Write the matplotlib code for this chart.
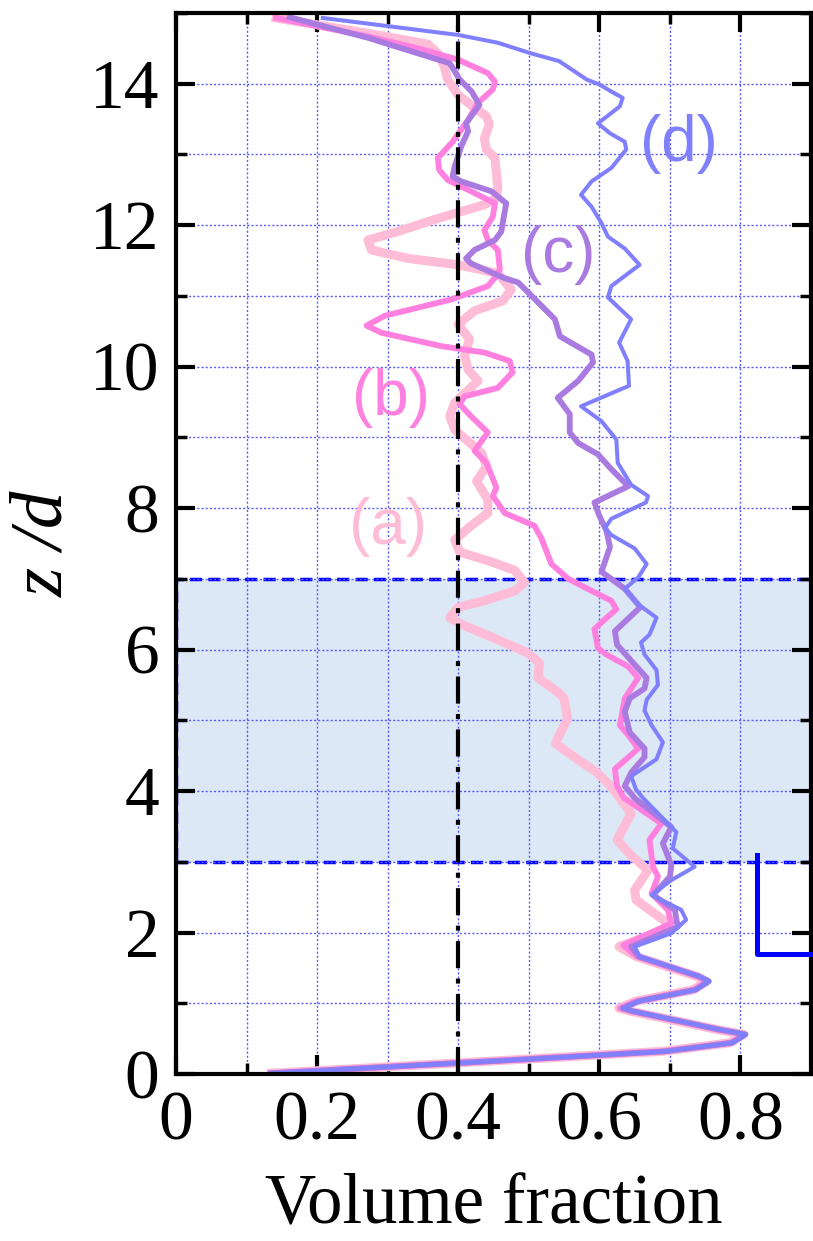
import matplotlib
matplotlib.use("Agg")
import matplotlib.pyplot as plt
from matplotlib.ticker import MultipleLocator

# volume fraction profiles, read top (z/d = 15) to bottom
a_z = [14.93, 14.70, 14.56, 14.43, 14.25, 14.06, 13.84, 13.66, 13.54, 13.42,
       13.23, 13.07, 12.95, 12.74, 12.55, 12.38, 12.29, 12.08, 11.91, 11.79,
       11.65, 11.53, 11.44, 11.32, 11.09, 10.93, 10.79, 10.60, 10.39, 10.15,
       9.96, 9.80, 9.49, 9.30, 9.11, 8.97, 8.78, 8.59, 8.38, 8.12,
       7.93, 7.75, 7.55, 7.38, 7.24, 7.12, 6.95, 6.83, 6.69, 6.60,
       6.45, 6.36, 6.14, 5.95, 5.81, 5.60, 5.40, 5.31, 5.02, 4.79,
       4.67, 4.45, 4.26, 4.07, 3.90, 3.68, 3.31, 3.09, 2.88, 2.60,
       2.46, 2.13, 2.04, 1.80, 1.66, 1.38, 1.31, 1.19, 1.03, 0.93,
       0.89, 0.63, 0.56, 0.44, 0.32, 0.21, 0.01]
a_x = [0.142, 0.280, 0.357, 0.371, 0.380, 0.385, 0.400, 0.423, 0.440, 0.444,
       0.437, 0.440, 0.452, 0.454, 0.456, 0.454, 0.437, 0.366, 0.314, 0.272,
       0.277, 0.329, 0.400, 0.456, 0.475, 0.463, 0.423, 0.400, 0.416, 0.409,
       0.414, 0.428, 0.395, 0.388, 0.395, 0.411, 0.433, 0.440, 0.426, 0.442,
       0.442, 0.418, 0.395, 0.402, 0.447, 0.480, 0.494, 0.480, 0.437, 0.400,
       0.388, 0.404, 0.456, 0.499, 0.515, 0.513, 0.541, 0.550, 0.555, 0.543,
       0.538, 0.569, 0.597, 0.616, 0.629, 0.645, 0.625, 0.645, 0.669, 0.650,
       0.652, 0.697, 0.692, 0.628, 0.652, 0.738, 0.752, 0.733, 0.652, 0.628,
       0.643, 0.766, 0.804, 0.785, 0.690, 0.497, 0.135]

b_z = [14.93, 14.67, 14.50, 14.34, 14.15, 14.03, 13.92, 13.73, 13.49, 13.18,
       12.95, 12.78, 12.64, 12.48, 12.31, 12.12, 11.93, 11.79, 11.65, 11.37,
       11.26, 11.14, 10.95, 10.72, 10.58, 10.48, 10.29, 10.20, 10.08, 9.92,
       9.70, 9.58, 9.47, 9.30, 9.07, 8.81, 8.64, 8.29, 8.17, 7.93,
       7.75, 7.57, 7.21, 7.00, 6.81, 6.69, 6.57, 6.43, 6.29, 6.02,
       5.93, 5.76, 5.60, 5.31, 4.93, 4.79, 4.60, 4.31, 4.07, 3.90,
       3.54, 3.31, 2.93, 2.79, 2.55, 2.32, 2.13, 1.82, 1.66, 1.38,
       1.31, 1.19, 1.03, 0.93, 0.89, 0.63, 0.56, 0.44, 0.32, 0.21,
       0.01]
b_x = [0.142, 0.272, 0.343, 0.400, 0.442, 0.452, 0.449, 0.428, 0.414, 0.392,
       0.371, 0.373, 0.385, 0.418, 0.452, 0.449, 0.437, 0.442, 0.456, 0.459,
       0.452, 0.442, 0.390, 0.296, 0.270, 0.291, 0.376, 0.437, 0.473, 0.477,
       0.456, 0.409, 0.402, 0.418, 0.442, 0.423, 0.440, 0.454, 0.449, 0.466,
       0.508, 0.518, 0.532, 0.556, 0.593, 0.617, 0.624, 0.608, 0.593, 0.598,
       0.610, 0.641, 0.655, 0.636, 0.629, 0.641, 0.655, 0.622, 0.625, 0.635,
       0.688, 0.671, 0.676, 0.683, 0.674, 0.697, 0.702, 0.634, 0.653, 0.739,
       0.753, 0.734, 0.653, 0.629, 0.644, 0.767, 0.805, 0.786, 0.691, 0.498,
       0.135]

c_z = [14.94, 14.65, 14.46, 14.29, 14.06, 13.89, 13.70, 13.44, 13.33, 13.11,
       12.83, 12.69, 12.62, 12.48, 12.31, 12.03, 11.91, 11.79, 11.65, 11.53,
       11.46, 11.25, 11.19, 10.67, 10.43, 10.17, 10.06, 9.80, 9.56, 9.33,
       9.07, 8.92, 8.76, 8.55, 8.31, 8.08, 7.89, 7.68, 7.45, 7.10,
       6.86, 6.60, 6.26, 6.07, 5.81, 5.60, 5.45, 5.31, 5.12, 4.83,
       4.60, 4.48, 4.26, 4.07, 3.90, 3.49, 3.26, 2.95, 2.79, 2.53,
       2.32, 2.08, 1.80, 1.66, 1.38, 1.31, 1.19, 1.03, 0.93, 0.89,
       0.63, 0.56, 0.44, 0.32, 0.21, 0.01]
c_x = [0.161, 0.272, 0.333, 0.388, 0.402, 0.419, 0.430, 0.411, 0.414, 0.404,
       0.395, 0.392, 0.404, 0.447, 0.468, 0.463, 0.461, 0.452, 0.423, 0.411,
       0.418, 0.466, 0.485, 0.537, 0.544, 0.589, 0.591, 0.570, 0.541, 0.558,
       0.558, 0.570, 0.598, 0.617, 0.641, 0.593, 0.600, 0.610, 0.615, 0.603,
       0.636, 0.658, 0.622, 0.625, 0.648, 0.667, 0.664, 0.643, 0.636, 0.643,
       0.664, 0.664, 0.645, 0.636, 0.650, 0.702, 0.690, 0.702, 0.700, 0.676,
       0.707, 0.711, 0.645, 0.656, 0.741, 0.755, 0.736, 0.656, 0.633, 0.646,
       0.769, 0.807, 0.788, 0.693, 0.500, 0.135]

d_z = [14.93, 14.69, 14.58, 14.43, 14.32, 14.06, 13.99, 13.89, 13.80, 13.68,
       13.44, 13.30, 13.18, 13.07, 12.81, 12.62, 12.43, 12.26, 12.03, 11.84,
       11.67, 11.44, 11.14, 10.98, 10.67, 10.34, 10.08, 9.73, 9.44, 9.23,
       8.97, 8.64, 8.33, 8.17, 8.08, 7.85, 7.72, 7.62, 7.43, 7.21,
       7.02, 6.86, 6.64, 6.45, 6.21, 6.10, 5.93, 5.71, 5.50, 5.29,
       5.14, 4.93, 4.69, 4.45, 4.21, 4.02, 3.90, 3.42, 3.19, 2.93,
       2.74, 2.53, 2.32, 2.18, 1.99, 1.80, 1.66, 1.38, 1.31, 1.19,
       1.03, 0.93, 0.89, 0.63, 0.56, 0.44, 0.32, 0.21, 0.01]
d_x = [0.208, 0.400, 0.456, 0.503, 0.543, 0.582, 0.600, 0.617, 0.633, 0.629,
       0.598, 0.615, 0.636, 0.638, 0.617, 0.589, 0.574, 0.589, 0.603, 0.612,
       0.636, 0.657, 0.617, 0.612, 0.645, 0.628, 0.640, 0.642, 0.574, 0.603,
       0.624, 0.626, 0.645, 0.669, 0.666, 0.617, 0.608, 0.617, 0.650, 0.667,
       0.655, 0.636, 0.655, 0.681, 0.671, 0.659, 0.664, 0.681, 0.683, 0.667,
       0.664, 0.674, 0.690, 0.681, 0.645, 0.652, 0.662, 0.709, 0.704, 0.735,
       0.702, 0.674, 0.716, 0.723, 0.702, 0.650, 0.657, 0.742, 0.756, 0.737,
       0.657, 0.634, 0.647, 0.770, 0.808, 0.789, 0.694, 0.501, 0.135]

labels = ["(a)", "(b)", "(c)", "(d)"]
label_pos = [(0.300, 7.74), (0.305, 9.56), (0.542, 11.58), (0.713, 13.15)]
colors = ["#ffbcd6", "#ff80df", "#a97ae0", "#8080ff"]
widths = [6.5, 4.2, 4.2, 2.9]

band = (3.0, 7.0)         # shaded z/d range
ref_phi = 0.4             # dash-dot reference line
marker_x, marker_top, marker_bot = 0.823, 3.1, 1.7

serif = "Liberation Serif"

fig = plt.figure(figsize=(8.13, 12.41), dpi=100)
ax = fig.add_axes([0.2165, 0.1346, 0.7811, 0.8549])

ax.axhspan(band[0], band[1], facecolor="#dce8f5", edgecolor="#0000ff",
           linestyle=(0, (3.5, 1.8)), linewidth=2.5, zorder=0.2)

series = [(a_x, a_z), (b_x, b_z), (c_x, c_z), (d_x, d_z)]
for (xs, zs), c, w in zip(series, colors, widths):
    ax.plot(xs, zs, color=c, lw=w, solid_joinstyle="round", zorder=2)

for txt, (tx, tz), c in zip(labels, label_pos, colors):
    ax.text(tx, tz, txt, color=c, fontsize=46, family="Liberation Sans",
            ha="center", va="center", zorder=4)

ax.axvline(ref_phi, color="black", lw=3, linestyle=(0, (6.5, 2.5, 1.2, 2.5)), zorder=5)

ax.plot([marker_x, marker_x, 0.9], [marker_top, marker_bot, marker_bot],
        color="#0000ff", lw=3.6, clip_on=False, zorder=5)

ax.set_xlim(0, 0.9)
ax.set_ylim(0, 15)
ax.xaxis.set_major_locator(MultipleLocator(0.2))
ax.xaxis.set_minor_locator(MultipleLocator(0.1))
ax.yaxis.set_major_locator(MultipleLocator(2))
ax.yaxis.set_minor_locator(MultipleLocator(1))
ax.set_xticks([0, 0.2, 0.4, 0.6, 0.8])
ax.set_xticklabels(["0", "0.2", "0.4", "0.6", "0.8"])

ax.grid(which="both", color="#5a5aff", linestyle=(0, (1.5, 1.5)), linewidth=1.0, zorder=0.5)
ax.set_axisbelow(True)

ax.tick_params(which="both", direction="in", top=True, right=True)
ax.tick_params(which="major", length=14, width=3, labelsize=50, pad=12)
ax.tick_params(which="minor", length=8, width=2.5)
for lab in ax.get_xticklabels() + ax.get_yticklabels():
    lab.set_family(serif)
for s in ax.spines.values():
    s.set_linewidth(3)

ax.set_xlabel("Volume fraction", fontsize=51, family=serif, labelpad=14)
ax.set_ylabel("z /d", fontsize=54, family=serif, style="italic", labelpad=8)

fig.savefig("out.png", dpi=100)
